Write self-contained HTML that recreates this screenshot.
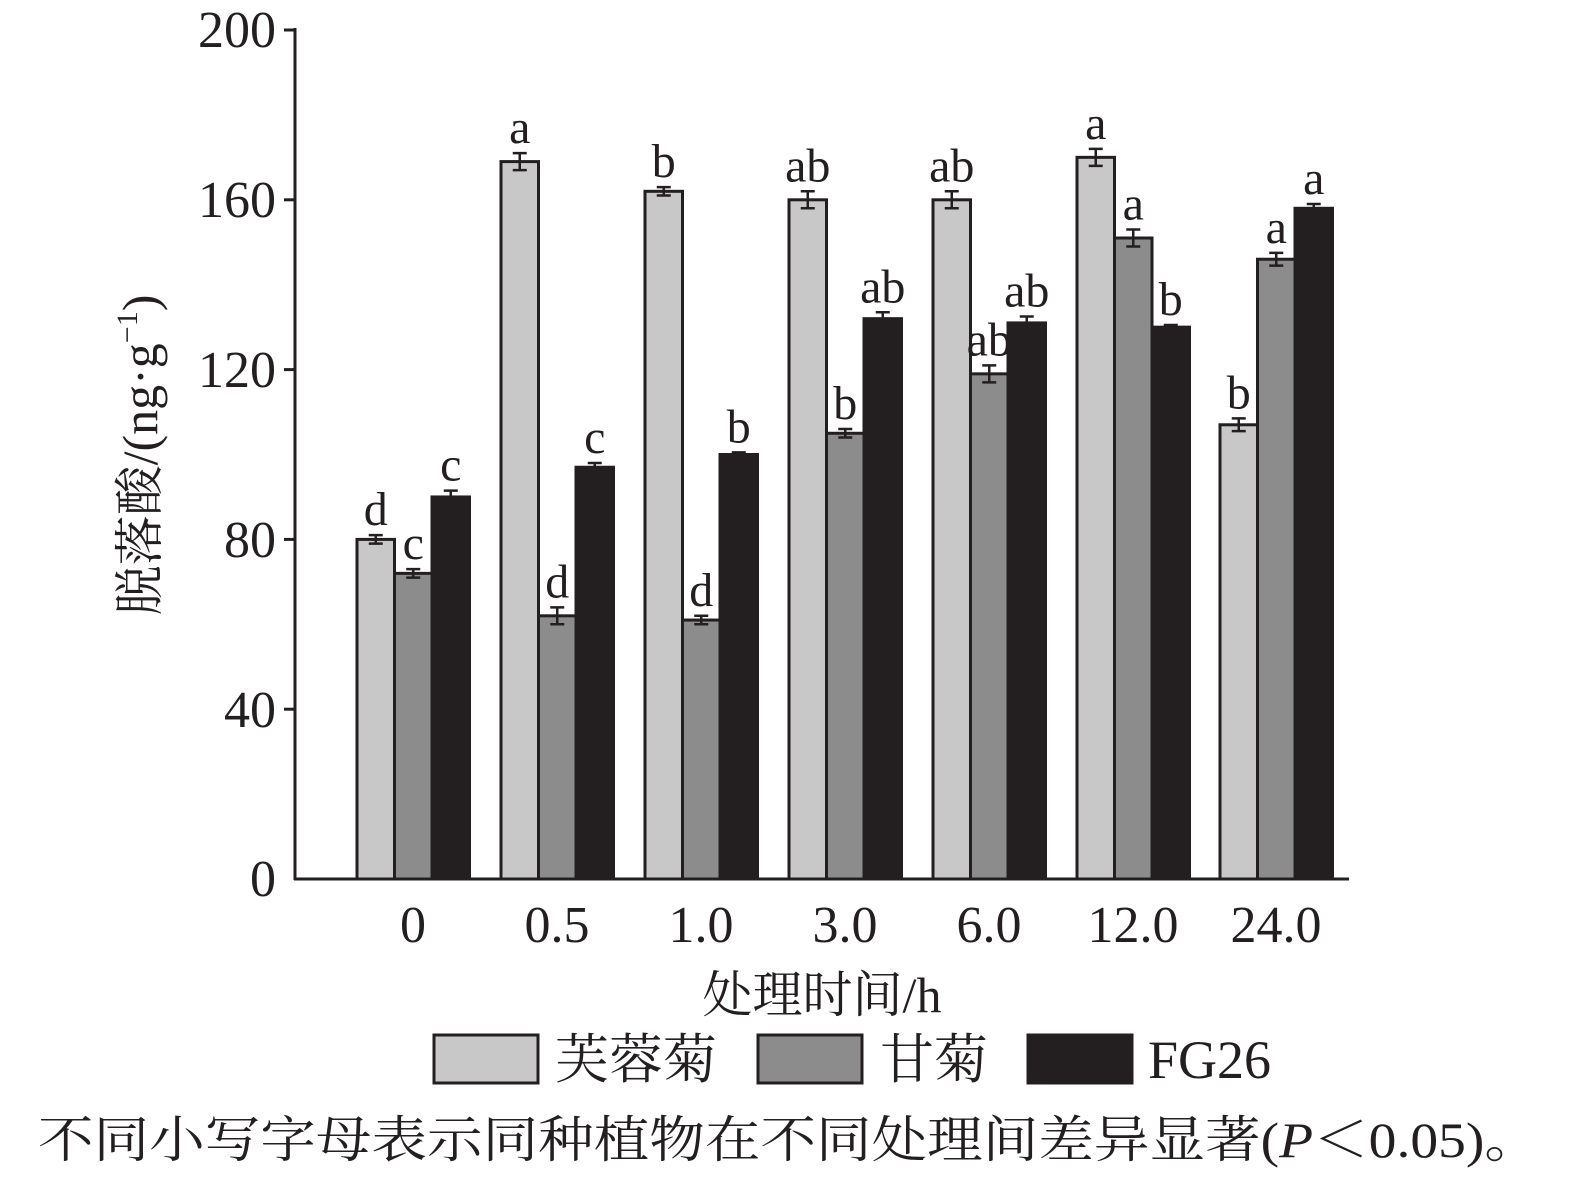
<!DOCTYPE html>
<html><head><meta charset="utf-8"><style>
body{margin:0;background:#fff}
svg{display:block}
text{font-family:"Liberation Serif","Noto Serif CJK SC",serif;fill:#231f20}
</style></head><body>
<svg width="1575" height="1178" viewBox="0 0 1575 1178" xmlns="http://www.w3.org/2000/svg">
<g id="bars" stroke="#231f20" stroke-width="3"></g>
<g stroke="#231f20" stroke-width="3" fill="none">
<line x1="295" y1="28" x2="295" y2="880"/>
<line x1="294" y1="879" x2="1349" y2="879"/>
<line x1="284" y1="30" x2="295" y2="30"/>
<line x1="284" y1="199.8" x2="295" y2="199.8"/>
<line x1="284" y1="369.6" x2="295" y2="369.6"/>
<line x1="284" y1="539.4" x2="295" y2="539.4"/>
<line x1="284" y1="709.2" x2="295" y2="709.2"/>
</g>
<g font-size="52" text-anchor="end">
<text x="276" y="47">200</text><text x="276" y="217">160</text><text x="276" y="387">120</text>
<text x="276" y="557">80</text><text x="276" y="727">40</text><text x="276" y="896">0</text>
</g>
<g font-size="52" text-anchor="middle">
<text x="413" y="942">0</text><text x="557" y="942">0.5</text><text x="701" y="942">1.0</text>
<text x="845" y="942">3.0</text><text x="989" y="942">6.0</text><text x="1133" y="942">12.0</text><text x="1276" y="942">24.0</text>
<text x="822" y="1012" font-size="50">处理时间/h</text>
</g>
<text font-size="50" text-anchor="middle" transform="translate(157,455) rotate(-90)">脱落酸/(ng·g<tspan font-size="30" dy="-20">−1</tspan><tspan dy="20">)</tspan></text>
<g stroke="#231f20" stroke-width="3">
<rect x="434" y="1035" width="104" height="48" fill="#c8c8c8"/>
<rect x="758" y="1035" width="104" height="48" fill="#8c8c8c"/>
<rect x="1028" y="1035" width="104" height="48" fill="#231f20"/>
</g>
<g font-size="54">
<text x="555" y="1078">芙蓉菊</text><text x="880" y="1078">甘菊</text><text x="1148" y="1078">FG26</text>
</g>
<text x="38" y="1157" font-size="50" textLength="1502" lengthAdjust="spacingAndGlyphs">不同小写字母表示同种植物在不同处理间差异显著(<tspan font-style="italic">P</tspan>＜0.05)。</text>
<g id="labels" font-size="48" text-anchor="middle"></g>
<script>
var vals=[[80,72,90],[169,62,97],[162,61,100],[160,105,132],[160,119,131],[170,151,130],[107,146,158]];
var errs=[[1,1,1.5],[2,2,1],[1,1,0.5],[2,1,1.5],[2,2,1.5],[2,2,0.5],[1.5,1.5,1]];
var labs=[["d","c","c"],["a","d","c"],["b","d","b"],["ab","b","ab"],["ab","ab","ab"],["a","a","b"],["b","a","a"]];
var cols=["#c8c8c8","#8c8c8c","#231f20"];
var centers=[413,557,701,845,989,1133,1276];
var ns="http://www.w3.org/2000/svg",B=document.getElementById("bars"),L=document.getElementById("labels");
function y(v){return 879-v*4.245;}
for(var g=0;g<7;g++)for(var i=0;i<3;i++){
 var x=centers[g]-56+i*37.5,v=vals[g][i];
 var r=document.createElementNS(ns,"rect");
 r.setAttribute("x",x);r.setAttribute("y",y(v));r.setAttribute("width",37.5);r.setAttribute("height",879-y(v));r.setAttribute("fill",cols[i]);B.appendChild(r);
 var cx=x+18.75,e=errs[g][i];
 var p=document.createElementNS(ns,"path");
 p.setAttribute("d","M"+cx+" "+y(v+e)+"V"+y(v-e)+"M"+(cx-7)+" "+y(v+e)+"h14M"+(cx-7)+" "+y(v-e)+"h14");
 p.setAttribute("stroke-width","2.5");B.appendChild(p);
 var t=document.createElementNS(ns,"text");
 t.setAttribute("x",cx);t.setAttribute("y",y(v+e)-10);t.textContent=labs[g][i];L.appendChild(t);
}
</script>
</svg>
</body></html>
